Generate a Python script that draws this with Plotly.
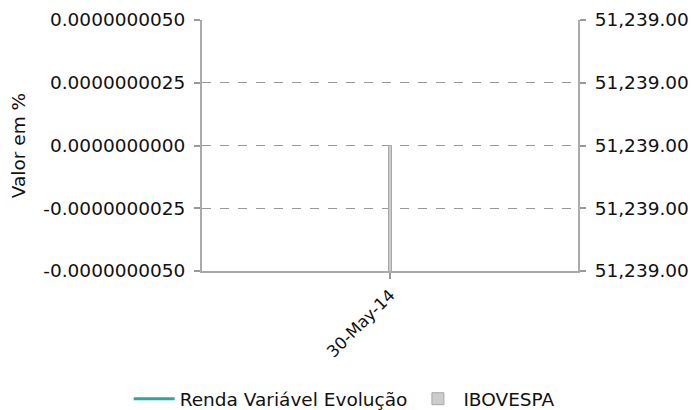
import plotly.graph_objects as go

# ---- data ----
categories = ["30-May-14"]
renda_variavel = [0.0]          # Valor em %
ibovespa = [51239.0]            # right axis
left_tick_vals = [-5e-9, -2.5e-9, 0.0, 2.5e-9, 5e-9]
left_tick_labels = ["-0.0000000050", "-0.0000000025", "0.0000000000",
                    "0.0000000025", "0.0000000050"]

FONT = "DejaVu Sans"
FS = 18.5

fig = go.Figure()

fig.add_trace(go.Bar(
    x=categories, y=ibovespa, name="IBOVESPA", yaxis="y2",
    width=0.008,
    marker=dict(color="#cccccc", line=dict(color="#a8a8a8", width=1)),
))

fig.add_trace(go.Scatter(
    x=categories, y=renda_variavel, name="Renda Variável Evolução",
    mode="lines", line=dict(color="#2aa99a", width=3),
))

axis_common = dict(
    showline=True, linecolor="#aaaaaa", linewidth=2,
    ticks="outside", ticklen=6, tickwidth=2, tickcolor="#999999",
    tickfont=dict(family=FONT, size=FS, color="#111111"),
    zeroline=False, automargin=False,
)

fig.update_layout(
    width=691, height=410,
    margin=dict(l=202, r=113, t=20, b=139, autoexpand=False),
    paper_bgcolor="white", plot_bgcolor="white",
    font=dict(family=FONT, size=FS, color="#111111"),
    showlegend=True,
    legend=dict(
        orientation="h",
        x=-0.195, xanchor="left", y=-0.435, yanchor="top",
        itemwidth=41,
        font=dict(family=FONT, size=FS, color="#111111"),
        traceorder="reversed",
    ),
    xaxis=dict(
        type="category", range=[-0.5, 0.5], tickangle=-45,
        showgrid=False, **{**axis_common, "tickfont": dict(family=FONT, size=16.5, color="#111111")},
    ),
    yaxis=dict(
        range=[-5e-9, 5e-9], tickvals=left_tick_vals, ticktext=left_tick_labels,
        showgrid=True, gridcolor="#999999", griddash="dash", gridwidth=1,
        ticklabelstandoff=5,
        title=dict(text="Valor em %", font=dict(family=FONT, size=FS, color="#111111"),
                   standoff=13),
        **axis_common,
    ),
    yaxis2=dict(
        overlaying="y", side="right",
        range=[51239 - 0.004, 51239 + 0.004], tick0=51239, dtick=0.002,
        tickformat=",.2f", showgrid=False, ticklabelstandoff=5,
        **axis_common,
    ),
)

fig.write_html(
    "out.html",
    config={"displayModeBar": False},
    post_script="document.body.style.margin='0';document.body.style.overflow='hidden';",
)
